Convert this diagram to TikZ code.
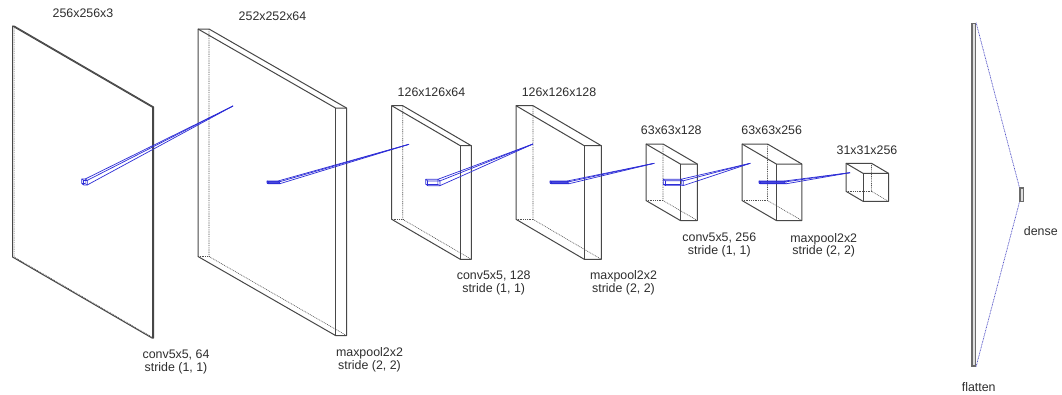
\documentclass[tikz,border=0pt]{standalone}
\usepackage{fontspec}
\setmainfont{Liberation Sans}
\definecolor{kernblue}{RGB}{45,45,215}
\definecolor{linkblue}{RGB}{85,85,200}
\tikzset{
  solidedge/.style={draw=black!72,line width=1pt},
  hiddenedge/.style={draw=black!68,line width=0.6pt,dash pattern=on 0.9pt off 0.9pt},
  kernedge/.style={draw=kernblue,line width=0.7pt},
  kernhidden/.style={draw=kernblue,line width=0.4pt},
  kernband/.style={fill=kernblue,fill opacity=0.85},
  lbl/.style={font=\fontsize{12.4}{12.8}\selectfont,text=black!82,align=center,inner sep=0pt},
  barbox/.style={draw=black!58,line width=1.2pt,inner sep=0pt,fill=black!12},
  dotlink/.style={draw=linkblue,line width=0.7pt,dash pattern=on 0.9pt off 0.7pt}
}
% #1 x0, #2 y0, #3 front dx, #4 front dy, #5 depth, #6 height, #7 solid style, #8 hidden style
\newcommand{\cuboidshape}[8]{
  \draw[#8] (#1+#5,#2) -- (#1+#5,#2+#6) -- (#1+#3+#5,#2+#4+#6);
  \draw[#8] (#1,#2+#6) -- (#1+#5,#2+#6);
  \draw[#7,line join=round] (#1,#2) -- (#1+#5,#2) -- (#1+#3+#5,#2+#4) -- (#1+#3+#5,#2+#4+#6)
     -- (#1+#3,#2+#4+#6) -- (#1,#2+#6) -- cycle;
  \draw[#7] (#1,#2) -- (#1+#3,#2+#4) -- (#1+#3+#5,#2+#4);
  \draw[#7] (#1+#3,#2+#4) -- (#1+#3,#2+#4+#6);
}
% kernel: cuboid plus three lines to the apex
\newcommand{\kernelshape}[8]{
  \cuboidshape{#1}{#2}{#3}{#4}{#5}{#6}{kernedge}{kernhidden}
  \draw[kernedge] (#1+#5,#2) -- (#7,#8);
  \draw[kernedge] (#1+#3+#5,#2+#4) -- (#7,#8);
  \draw[kernedge] (#1+#3+#5,#2+#4+#6) -- (#7,#8);
}
\begin{document}
\begin{tikzpicture}[x=1pt,y=-1pt]
\useasboundingbox[fill=white] (0,0) rectangle (1062,394);
% layers
\cuboidshape{12.5}{26}{139.5}{81}{1.6}{231}{solidedge}{hiddenedge}
\cuboidshape{198}{29}{137.5}{79}{11}{227.5}{solidedge}{hiddenedge}
\cuboidshape{391.7}{105.7}{68.6}{40}{11}{113.6}{solidedge}{hiddenedge}
\cuboidshape{516}{105.7}{68.3}{40}{17}{113.6}{solidedge}{hiddenedge}
\cuboidshape{646}{144}{34.3}{20}{17}{56.5}{solidedge}{hiddenedge}
\cuboidshape{742}{144}{34.3}{20}{25.5}{56.5}{solidedge}{hiddenedge}
\cuboidshape{846}{163.3}{17}{10}{25.5}{28}{solidedge}{hiddenedge}
% kernels
\kernelshape{81.8}{179}{2}{1.4}{3.4}{4.6}{233}{106}
\kernelshape{267}{181}{1.5}{0.8}{11}{2}{409}{144.3}
\fill[kernband] (267,181) rectangle (278.5,184);
\kernelshape{425.7}{179.3}{2}{1.6}{12.2}{4.8}{533}{144}
\kernelshape{550}{181}{1.5}{0.8}{17.2}{2}{654.3}{163.3}
\fill[kernband] (550,181) rectangle (567.5,184);
\kernelshape{663.3}{179.2}{2}{1.6}{18}{4.8}{750.3}{163.3}
\kernelshape{759}{181}{1.5}{0.8}{25.5}{2}{850}{172.7}
\fill[kernband] (759,181) rectangle (785,184);
% flatten and dense
\node[barbox,minimum width=3.6pt,minimum height=342.7pt] (flat) at (973.7,194.6) {};
\node[barbox,minimum width=3.6pt,minimum height=13.7pt] (dense) at (1021.8,194.8) {};
\draw[dotlink] (flat.north east) -- (dense.north west);
\draw[dotlink] (flat.south east) -- (dense.south west);
% labels
\node[lbl] (t1) at (83,13) {256x256x3};
\node[lbl] (t2) at (272.5,16.5) {252x252x64};
\node[lbl] (t3) at (431.5,92.7) {126x126x64};
\node[lbl] (t4) at (559,92.7) {126x126x128};
\node[lbl] (t5) at (671.3,130.3) {63x63x128};
\node[lbl] (t6) at (771.7,130.3) {63x63x256};
\node[lbl] (t7) at (867,150.7) {31x31x256};
\node[lbl] (o1) at (176,362) {conv5x5, 64\\stride (1, 1)};
\node[lbl] (o2) at (369.5,359.5) {maxpool2x2\\stride (2, 2)};
\node[lbl] (o3) at (493.7,283) {conv5x5, 128\\stride (1, 1)};
\node[lbl] (o4) at (623.5,283) {maxpool2x2\\stride (2, 2)};
\node[lbl] (o5) at (719.3,245.2) {conv5x5, 256\\stride (1, 1)};
\node[lbl] (o6) at (823.7,245.2) {maxpool2x2\\stride (2, 2)};
\node[lbl] (fl) at (978.7,386.7) {flatten};
\node[lbl] (de) at (1040.8,231.5) {dense};
\end{tikzpicture}
\end{document}
